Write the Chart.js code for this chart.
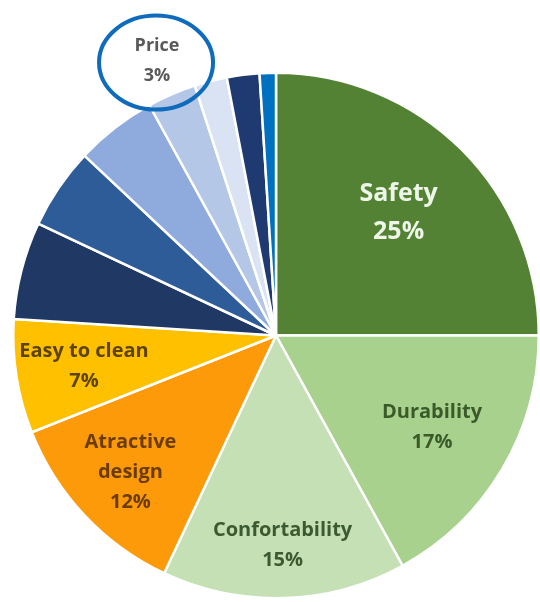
<!DOCTYPE html>
<html>
<head>
<meta charset="utf-8">
<script src="https://cdn.jsdelivr.net/npm/chart.js@4"></script>
<style>
  body { margin: 0; background: #fff; }
  #wrap { width: 540px; height: 602px; }
</style>
</head>
<body>
<div id="wrap"><canvas id="myChart" width="540" height="602"></canvas></div>
<script>
// slices clockwise from 12 o'clock (unnamed slices carry no label in the picture)
const categories = [['Safety'], ['Durability'], ['Confortability'], ['Atractive', 'design'], ['Easy to clean'],
                    [''], [''], [''], ['Price'], [''], [''], ['']];
const shares = [25, 17, 15, 12, 7, 6, 5, 5, 3, 2, 2, 1];

const sliceColors = ['#548235', '#a9d18e', '#c5e0b4', '#fd9a0a', '#ffc000',
                     '#1f3864', '#2e5c99', '#8faadc', '#b4c7e7', '#dae3f3', '#1f3a70', '#0070c0'];
const textColors = ['#eef6e8', '#3a5a2a', '#3c5a32', '#6b3c06', '#5c4300',
                    '', '', '', '#595959', '', '', ''];
const labelRadius = [0.66, 0.69, 0.8, 0.76, 0.74, 0, 0, 0, 1.14, 0, 0, 0];

const total = shares.reduce((a, b) => a + b, 0);

const sliceLabels = {
    id: 'sliceLabels',
    afterDatasetsDraw(chart) {
        const ctx = chart.ctx;
        const meta = chart.getDatasetMeta(0);
        meta.data.forEach((arc, i) => {
            const lines = categories[i].filter(s => s !== '');
            if (!lines.length) return;
            const mid = (arc.startAngle + arc.endAngle) / 2;
            const r = arc.outerRadius * labelRadius[i];
            const x = arc.x + Math.cos(mid) * r;
            const y = arc.y + Math.sin(mid) * r;
            const all = lines.concat([Math.round(shares[i] / total * 100) + '%']);
            const big = i === 0;
            const size = big ? 25 : (lines[0] === 'Price' ? 18 : 20);
            const lh = big ? 38 : 30;
            ctx.save();
            ctx.font = 'bold ' + size + 'px "Open Sans", sans-serif';
            ctx.fillStyle = textColors[i];
            ctx.textAlign = 'center';
            ctx.textBaseline = 'middle';
            const y0 = y - (all.length - 1) * lh / 2;
            all.forEach((t, k) => ctx.fillText(t, x, y0 + k * lh));
            if (lines[0] === 'Price') {
                // highlight ring round the Price label
                ctx.beginPath();
                ctx.ellipse(x - 1, y + 2, 57, 47, 0, 0, Math.PI * 2);
                ctx.strokeStyle = '#0f6cbd';
                ctx.lineWidth = 4;
                ctx.stroke();
            }
            ctx.restore();
        });
    }
};

const ctx = document.getElementById('myChart').getContext('2d');
const myChart = new Chart(ctx, {
    type: 'pie',
    data: {
        labels: categories,
        datasets: [{
            data: shares,
            backgroundColor: sliceColors,
            borderColor: '#ffffff',
            borderWidth: 2.5
        }]
    },
    options: {
        responsive: false,
        animation: false,
        layout: {
            padding: { top: 69, left: 12, right: 0, bottom: 0 }
        },
        plugins: {
            legend: { display: false },
            tooltip: { enabled: false }
        }
    },
    plugins: [sliceLabels]
});
</script>
</body>
</html>
